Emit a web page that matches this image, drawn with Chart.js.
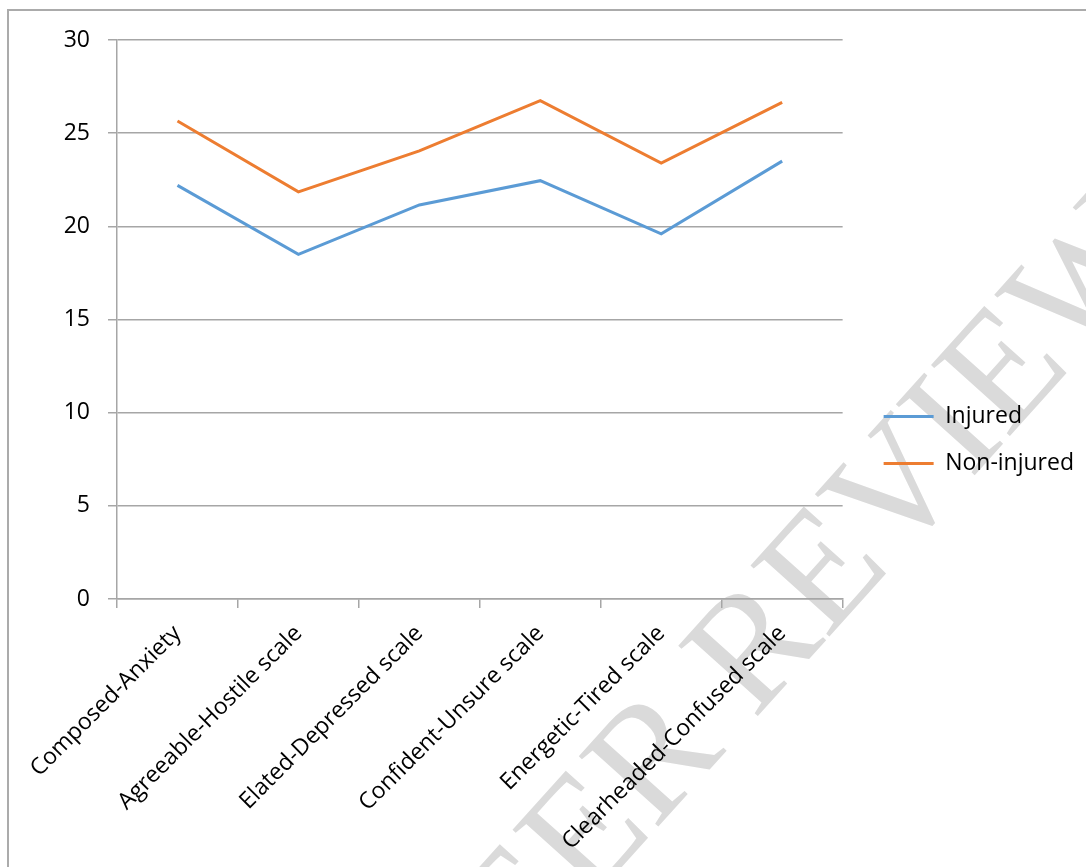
<!DOCTYPE html>
<html>
<head>
<meta charset="utf-8">
<script src="https://cdn.jsdelivr.net/npm/chart.js@4.4.1/dist/chart.umd.min.js"></script>
<style>
  html, body { margin: 0; padding: 0; background: #fff; }
  #wrap { position: absolute; left: 0; top: 0; width: 1086px; height: 867px; }
  #frame { position: absolute; left: 7px; top: 9px; width: 1200px; height: 1000px;
           border-left: 2px solid #ababab; border-top: 2px solid #ababab; }
</style>
</head>
<body>
<div id="wrap">
  <div id="frame"></div>
  <canvas id="chart" width="1086" height="867"></canvas>
</div>
<script>
const categories = ["Composed-Anxiety", "Agreeable-Hostile scale", "Elated-Depressed scale",
                    "Confident-Unsure scale", "Energetic-Tired scale", "Clearheaded-Confused scale"];
const injured = [22.2, 18.5, 21.15, 22.45, 19.6, 23.5];
const nonInjured = [25.65, 21.85, 24.05, 26.75, 23.4, 26.65];
const seriesNames = ["Injured", "Non-injured"];
const yMin = 0, yMax = 30, yStep = 5;
const watermarkText = "PEER REVIEW";

const gridGrey = "#a6a6a6";
const labelFont = { family: "'Open Sans'", size: 23 };

// grey diagonal stamp behind the chart
const watermark = {
    id: "watermark",
    beforeDraw(c) {
        const ctx = c.ctx;
        ctx.save();
        ctx.translate(787, 620);
        ctx.rotate(-48 * Math.PI / 180);
        ctx.font = "162px 'Liberation Serif'";
        ctx.fillStyle = "#dadada";
        ctx.textAlign = "center";
        ctx.textBaseline = "middle";
        ctx.fillText(watermarkText, 0, 0);
        ctx.restore();
    }
};

new Chart(document.getElementById("chart"), {
    type: "line",
    data: {
        labels: categories,
        datasets: [
            { label: seriesNames[0], data: injured, borderColor: "#5b9bd5", backgroundColor: "#5b9bd5",
              borderWidth: 3, pointBorderWidth: 3 },
            { label: seriesNames[1], data: nonInjured, borderColor: "#ed7d31", backgroundColor: "#ed7d31",
              borderWidth: 3, pointBorderWidth: 3 }
        ]
    },
    options: {
        responsive: false,
        animation: false,
        layout: { padding: { top: 40, left: 0, right: 2, bottom: 0 } },
        elements: {
            line: { tension: 0 },
            point: { radius: 0, hoverRadius: 0 }
        },
        plugins: {
            tooltip: { enabled: false },
            legend: {
                position: "right",
                align: "start",
                maxWidth: 400,
                // empty title only used as a spacer to push the items down
                title: { display: true, text: "", font: { size: 1, lineHeight: 1 }, padding: { top: 340, bottom: 0 } },
                labels: {
                    usePointStyle: true,
                    pointStyle: "line",
                    pointStyleWidth: 50,
                    padding: 24,
                    color: "#000",
                    font: labelFont
                }
            }
        },
        scales: {
            x: {
                offset: true,
                grid: { offset: true, drawOnChartArea: false, tickLength: 9, color: gridGrey, lineWidth: 1.5 },
                border: { color: gridGrey, width: 1.5 },
                ticks: { minRotation: 45, maxRotation: 45, padding: 12, color: "#000", font: labelFont },
                afterFit: s => { s.height = 268; }
            },
            y: {
                min: yMin,
                max: yMax,
                ticks: { stepSize: yStep, padding: 18, color: "#000", font: labelFont },
                grid: { color: gridGrey, lineWidth: 1.5, tickLength: 9 },
                border: { color: gridGrey, width: 1.5 },
                afterFit: s => { s.width = 117; }
            },
            gap: {
                position: "right",
                display: true,
                grid: { display: false },
                border: { display: false },
                ticks: { display: false },
                afterFit: s => { s.width = 17; }
            }
        }
    },
    plugins: [watermark]
});
</script>
</body>
</html>
